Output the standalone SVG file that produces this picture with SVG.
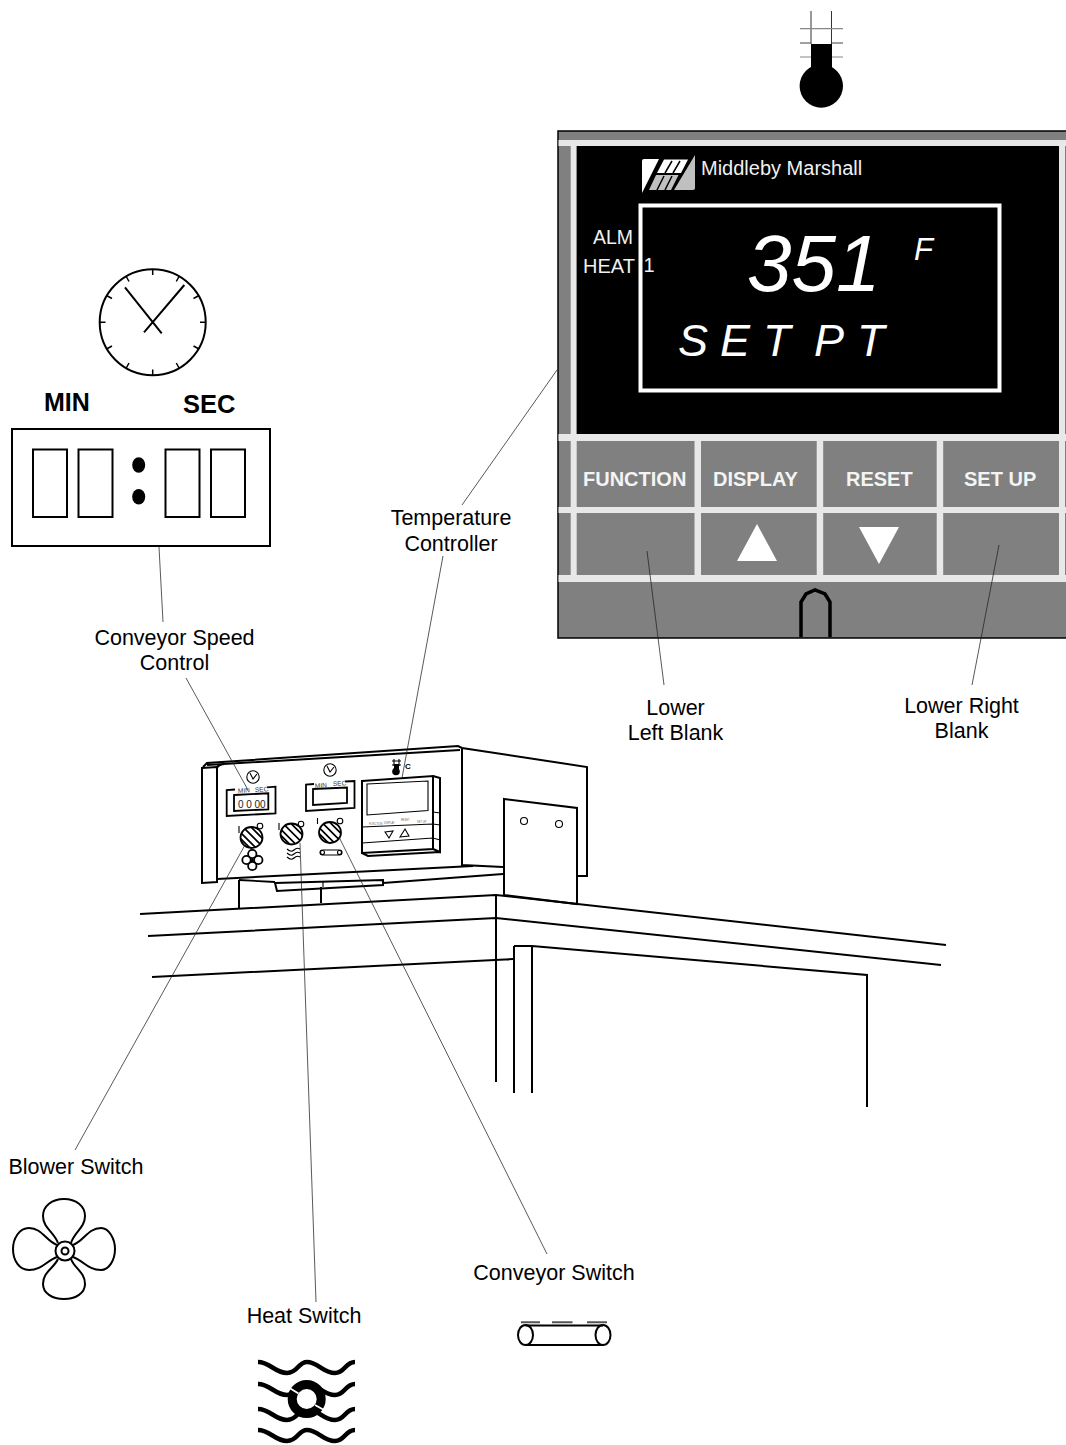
<svg xmlns="http://www.w3.org/2000/svg" xmlns:xlink="http://www.w3.org/1999/xlink" width="1066" height="1445" viewBox="0 0 1066 1445">
<style>
text{font-family:"Liberation Sans",Arial,sans-serif}
.lbl{font-size:21.5px;fill:#000;text-anchor:middle}
.ln{fill:none;stroke:#000;stroke-width:1.800;stroke-linejoin:miter}
.hv{fill:none;stroke:#000;stroke-width:2}
.tn{fill:none;stroke:#000;stroke-width:1.100}
.lead{fill:none;stroke:#222;stroke-width:.75}
.btn{fill:#808080}
.lt{fill:#e8e8e8}
.bt{font-size:20px;font-weight:bold;fill:#f4f4f4}
.wh{fill:#fff}
.wave{fill:none;stroke:#000;stroke-width:4.500}
.tiny{font-size:6.500px;fill:#333}
.micro{font-size:2.600px;fill:#666}
</style>
<defs>
<clipPath id="kc"><ellipse cx="0" cy="0" rx="11" ry="10.500"/></clipPath>
<g id="knob">
<ellipse cx="0" cy="0" rx="11" ry="10.500" fill="#fff" stroke="#000" stroke-width="1.800"/>
<g clip-path="url(#kc)" stroke="#000" stroke-width="1.700"><path d="M-14,-8L8,14M-10,-12L12,10M-5,-15L15,5M-15,-3L3,15M0,-17L17,0"/></g>
</g>
<path id="w1" d="M258,0C270,0 275,11 287,11C298,11 298,0 307,0C318,0 323,11 335,11C345,11 345,0 355,0"/>
</defs>

<g id="oven">
<path class="hv" d="M140,914L496,895L946,945M148,936L496,918L941,965M152,977L513,959"/>
<path class="hv" d="M496,895V1082M514,946V1093M532,946V1093M514,946H532L867,975V1107"/>
<path class="hv" d="M239,880V908M321,887V903"/>
<path class="hv" d="M217,879L473,866"/>
<path class="ln" d="M383,883L503,874M239,880L275,882"/>
<path class="hv" d="M275,883L383,880V885L277,891Z"/>
<path class="tn" d="M323,881V887"/>
<path class="hv" d="M203,767L207,763L458,746L462,748L587,767V876H577"/>
<path class="hv" d="M202,768L217,767M207,765L460,750M202,767V883L217,882V768Q218,765 224,764"/>
<path class="hv" d="M462,748V865L503,867"/>
</g>
<g id="plate">
<path class="hv" d="M504,799L577,808V904L504,895Z" fill="#fff"/>
<circle class="tn" cx="524" cy="821" r="3.500"/>
<circle class="tn" cx="559" cy="824" r="3.500"/>
</g>

<g id="mini-timers">
<circle class="tn" cx="253" cy="777" r="6.200"/><path class="tn" d="M250,773L253,779L257,774"/>
<circle class="tn" cx="330" cy="770" r="6.200"/><path class="tn" d="M327,766L330,772L334,767"/>
<path class="ln" d="M235,789.500L226.700,790V816L275.500,813.300V786.700L267,787.300"/>
<path class="ln" d="M234,795L268.300,793.300V809.300L234,811Z"/>
<text class="tiny" x="238" y="793" transform="rotate(-3 238 793)">MIN</text>
<text class="tiny" x="255" y="792" transform="rotate(-3 255 792)">SEC</text>
<text x="238" y="807.500" style="font-size:10px;fill:#222">0 0</text>
<text x="254.500" y="807.500" style="font-size:10px;fill:#222">00</text>
<path class="ln" d="M314,784L306,784.500V811L354.500,808V781L345,781.500"/>
<path class="ln" d="M313,789L347,787.500V803L313,805Z"/>
<text class="tiny" x="315" y="788" transform="rotate(-3 315 788)">MIN</text>
<text class="tiny" x="333" y="786" transform="rotate(-3 333 786)">SEC</text>
</g>

<g id="mini-controller">
<path class="hv" d="M362,781L433,776V849L362,853Z"/>
<path class="hv" d="M433,776L440,778V852L433,849M362,853L368,856L440,852"/>
<path class="tn" d="M367,784L428,781V810.500L367,815Z"/>
<path class="tn" d="M362,827L433,824L440,825M362,843L433,838L440,840M433,812L440,813"/>
<path class="tn" d="M385,832L393,831L389,838Z"/>
<path class="tn" d="M400,837L409,836L405,829Z"/>
<text class="micro" x="369" y="825">FUNCTION</text>
<text class="micro" x="384" y="824">DISPLAY</text>
<text class="micro" x="401" y="821">RESET</text>
<text class="micro" x="417" y="823">SET UP</text>
<circle cx="396" cy="771.500" r="3.800"/>
<rect x="394" y="764" width="5" height="6"/>
<path class="tn" d="M394,759V766M399,759V766M392,761H401M392,765H401"/>
<text x="405" y="769" style="font-size:8px;font-weight:bold">C</text>
</g>

<g id="mini-switches">
<use xlink:href="#knob" href="#knob" x="251.500" y="837.500"/>
<use xlink:href="#knob" href="#knob" x="291.500" y="834"/>
<use xlink:href="#knob" href="#knob" x="330" y="832.500"/>
<path class="tn" d="M239,826V833M279,823V830M317.500,818V824"/>
<circle class="tn" cx="260" cy="826" r="2.800"/>
<circle class="tn" cx="301" cy="824" r="2.800"/>
<circle class="tn" cx="340" cy="821" r="2.800"/>
<circle class="ln" cx="252.300" cy="854" r="4.200"/><circle class="ln" cx="252.300" cy="866" r="4.200"/><circle class="ln" cx="246.500" cy="860" r="4.200"/><circle class="ln" cx="258.300" cy="860" r="4.200"/>
<circle cx="252.300" cy="860" r="1.500"/>
<path class="tn" d="M287,849Q291,853 294,850T300,849M287,853Q291,857 294,854T300,853M287,857Q291,861 294,858T300,857"/>
<rect class="tn" x="320" y="850" width="22" height="5" rx="2.500"/>
<circle class="tn" cx="322.500" cy="852.500" r="2"/><circle class="tn" cx="339.500" cy="852.500" r="2"/>
</g>

<g id="controller">
<rect x="558" y="131" width="510" height="507" fill="#808080" stroke="#000" stroke-width="1.500"/>
<rect class="lt" x="558.500" y="140" width="507.500" height="6"/>
<rect class="lt" x="570.700" y="140" width="6" height="442"/>
<rect class="lt" x="1059" y="140" width="6" height="442"/>
<rect x="576.700" y="146" width="482.300" height="288" fill="#000"/>
<rect class="lt" x="558.500" y="434" width="507.500" height="7"/>
<rect class="lt" x="558.500" y="507" width="507.500" height="6"/>
<rect class="lt" x="558.500" y="575" width="507.500" height="7"/>
<rect class="lt" x="694.500" y="441" width="6.500" height="134"/>
<rect class="lt" x="816.700" y="441" width="6.500" height="134"/>
<rect class="lt" x="936.700" y="441" width="6.500" height="134"/>
<path d="M801,637V602L806,594L815,590L825,594L830,602V637" fill="none" stroke="#000" stroke-width="3.500"/>
<g id="logo">
<path class="wh" d="M644,159H659L642,193V161Q642,159 644,159Z"/>
<path class="wh" d="M664,159.500H688L681,173H657Z"/>
<path fill="#c0c0c0" d="M656,175H678.500L671,190H649Z"/>
<path fill="#c0c0c0" d="M695,155V188Q695,190 693,190H674Z"/>
<path stroke="#000" stroke-width="1.500" fill="none" d="M672,161L665,173M680,161L673,173M664,176L657,190M672,176L665,190"/>
</g>
<text x="701" y="175" style="font-size:20px;fill:#f0f0f0">Middleby Marshall</text>
<rect x="640.500" y="205.500" width="359" height="185" fill="none" stroke="#fff" stroke-width="4"/>
<text x="593" y="244" style="font-size:19.500px;fill:#f0f0f0">ALM</text>
<text x="583" y="273" style="font-size:20px;fill:#f0f0f0">HEAT</text>
<text x="643.500" y="272" style="font-size:20px;fill:#f0f0f0">1</text>
<text x="747" y="291" style="font-size:80px;font-style:italic;fill:#fff">351</text>
<text x="914" y="260" style="font-size:31px;font-style:italic;fill:#fff">F</text>
<text y="356" x="678 0 720 0 763 0 814 0 857" style="font-size:45px;font-style:italic;fill:#fff">S E T P T</text>
<text class="bt" x="583" y="486">FUNCTION</text>
<text class="bt" x="713" y="486">DISPLAY</text>
<text class="bt" x="846" y="486">RESET</text>
<text class="bt" x="964" y="486">SET UP</text>
<path class="wh" d="M737,561H777L757,524Z"/>
<path class="wh" d="M859,527H899L879,564Z"/>
</g>

<g id="thermometer">
<path d="M811,11V44M831.500,11V44" fill="none" stroke="#333" stroke-width="1"/>
<path d="M800,28.700H843M800,57H811M832,57H843" fill="none" stroke="#888" stroke-width="1.200"/>
<path d="M800,43H811M832,43H843" fill="none" stroke="#444" stroke-width="1"/>
<rect x="811" y="44" width="21" height="30"/>
<circle cx="821.300" cy="86" r="21.700"/>
</g>

<g id="clock">
<circle cx="152.700" cy="322.300" r="53" fill="none" stroke="#000" stroke-width="2"/>
<g fill="none" stroke="#000" stroke-width="1.500">
<path d="M152.700,269V275M152.700,375.500V369.500M99.500,322.300H105.500M206,322.300H200"/>
<path d="M126,276L129,281.500M179.300,276L176.300,281.500M106.500,295.500L112,298.500M199,295.500L193.500,298.500M106.500,349L112,346M199,349L193.500,346M126,368.500L129,363M179.300,368.500L176.300,363"/>
</g>
<path d="M125,287.300L161.700,333.300M184.300,285L144,332.300" fill="none" stroke="#000" stroke-width="2"/>
</g>

<g id="timer">
<text x="44" y="411" style="font-size:25px;font-weight:bold">MIN</text>
<text x="183" y="412.700" style="font-size:25.500px;font-weight:bold">SEC</text>
<rect class="hv" x="12" y="429" width="258" height="117"/>
<rect class="hv" x="33" y="449.500" width="34" height="67.500"/>
<rect class="hv" x="78.500" y="449.500" width="34" height="67.500"/>
<rect class="hv" x="165.500" y="449.500" width="34" height="67.500"/>
<rect class="hv" x="211" y="449.500" width="34" height="67.500"/>
<ellipse cx="138.700" cy="465" rx="6.500" ry="7.800"/>
<ellipse cx="138.700" cy="496.700" rx="6.500" ry="7.800"/>
</g>

<g id="fan">
<g fill="none" stroke="#000" stroke-width="2">
<path d="M58,1243C54,1232 43,1228 43,1216C43,1206 52,1199 64,1199C76,1199 85,1206 85,1216C85,1228 74,1232 71,1243"/>
<path d="M58,1259C54,1268 43,1272 43,1284C43,1293 52,1299 64,1299C76,1299 85,1293 85,1284C85,1272 74,1268 71,1259"/>
<path d="M57,1245C46,1241 42,1228 29,1228C19,1228 13,1239 13,1249C13,1260 19,1270 29,1270C42,1270 46,1261 57,1257"/>
<path d="M73,1245C84,1241 88,1228 101,1228C109,1228 115,1239 115,1249C115,1260 109,1270 101,1270C88,1270 84,1261 73,1257"/>
<circle cx="65" cy="1251" r="9.500"/>
<circle cx="65" cy="1251" r="3.500"/>
</g>
</g>

<g id="conveyor-icon">
<path d="M525.500,1325.500H603M525.500,1345H603" fill="none" stroke="#000" stroke-width="2"/>
<ellipse cx="525.500" cy="1335" rx="7.500" ry="10" fill="none" stroke="#000" stroke-width="2"/>
<ellipse cx="603" cy="1335" rx="7.500" ry="10" fill="none" stroke="#000" stroke-width="2"/>
<path d="M521,1322.300H540M552,1322.300H572.500M587,1322.300H607" fill="none" stroke="#555" stroke-width="2"/>
</g>

<g id="heat-icon">
<use xlink:href="#w1" href="#w1" class="wave" y="1362"/>
<use xlink:href="#w1" href="#w1" class="wave" y="1384"/>
<use xlink:href="#w1" href="#w1" class="wave" y="1409"/>
<use xlink:href="#w1" href="#w1" class="wave" y="1430"/>
<circle cx="306.700" cy="1399" r="14.500" fill="#fff" stroke="#000" stroke-width="9"/>
<path d="M289.500,1388L298.500,1393.500M315,1405L324,1410" fill="none" stroke="#fff" stroke-width="1.800"/>
</g>

<g id="connectors">
<path class="lead" d="M557,370L462,505"/>
<path class="lead" d="M443,556L402,778"/>
<path class="lead" d="M159,547L163,622"/>
<path class="lead" d="M186,678L248,790"/>
<path class="lead" d="M647,551L664,685"/>
<path class="lead" d="M999,545L972,685"/>
<path class="lead" d="M245,845L75,1150"/>
<path class="lead" d="M300,843L316,1302"/>
<path class="lead" d="M339,837L547,1254"/>
</g>

<g id="labels">
<text class="lbl" x="451" y="525">Temperature</text>
<text class="lbl" x="451" y="551">Controller</text>
<text class="lbl" x="174.500" y="645">Conveyor Speed</text>
<text class="lbl" x="174.500" y="670">Control</text>
<text class="lbl" x="675.500" y="715">Lower</text>
<text class="lbl" x="675.500" y="740">Left Blank</text>
<text class="lbl" x="961.500" y="713">Lower Right</text>
<text class="lbl" x="961.500" y="738">Blank</text>
<text class="lbl" x="76" y="1174">Blower Switch</text>
<text class="lbl" x="304" y="1323">Heat Switch</text>
<text class="lbl" x="554" y="1280">Conveyor Switch</text>
</g>
</svg>
